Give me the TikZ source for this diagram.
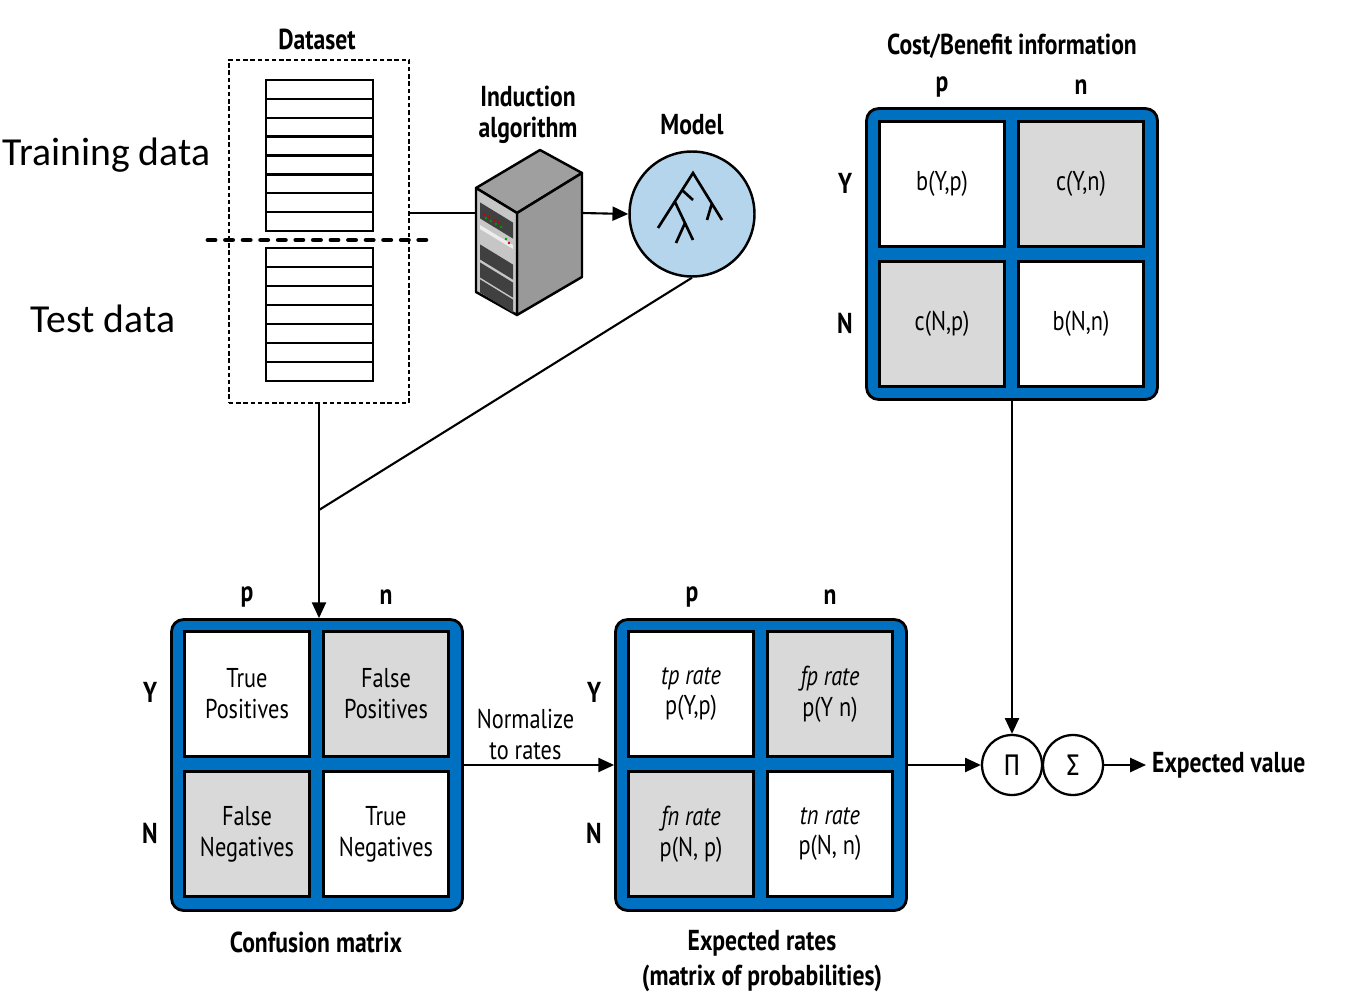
\documentclass[tikz,border=0pt]{standalone}
\usepackage{fontspec}
\setmainfont{PT Sans}[FakeStretch=0.82]
\newfontfamily\calfont{Carlito}
\newfontfamily\grkfont{Fira Sans}[FakeStretch=0.85]
\usetikzlibrary{arrows.meta,positioning,calc}
\definecolor{matblue}{HTML}{0070C0}
\definecolor{cellgrey}{HTML}{D9D9D9}
\definecolor{modelblue}{HTML}{B4D5EB}

\begin{document}
\begin{tikzpicture}[x=0.02cm,y=-0.02cm,
    every node/.style={font=\fontsize{15.5}{17.6}\selectfont},
    lbl/.style={font=\fontsize{16.4}{17.6}\selectfont\bfseries},
    side/.style={font=\calfont\fontsize{22.6}{26}\selectfont},
    cell/.style={draw,line width=1.6pt,minimum size=2.5cm,inner sep=0pt,align=center,fill=white},
    greycell/.style={cell,fill=cellgrey},
    matbox/.style={draw,line width=1.6pt,fill=matblue,rounded corners=0.24cm,minimum size=5.82cm},
    op/.style={draw,circle,line width=1.3pt,minimum size=1.2cm,inner sep=0pt,fill=white,font=\grkfont\fontsize{17}{18}\selectfont},
    arr/.style={-{Triangle[length=9pt,width=8pt]},line width=1.2pt},
    con/.style={line width=1.2pt}]
    \useasboundingbox (0,0) rectangle (1362,1000);
    % dataset
    \node[side,anchor=west] (trainlbl) at (-4,155) {Training data};
    \node[side] (testlbl) at (103,319) {Test data};
    \node[draw,line width=1.3pt,dash pattern=on 2.5pt off 1.6pt,minimum width=3.6cm,minimum height=6.86cm] (ds) at (319,231.5) {};
    \node[lbl] (dslbl) at (317,39) {Dataset};
    \draw[line width=1.3pt] (266,80) rectangle (373,231);
    \foreach \i in {1,...,7} \draw[line width=1.3pt] (266,80+\i*18.875) -- (373,80+\i*18.875);
    \draw[line width=1.3pt] (266,248) rectangle (373,381);
    \foreach \i in {1,...,6} \draw[line width=1.3pt] (266,248+\i*19) -- (373,248+\i*19);
    \draw[line width=2.8pt,line cap=round,dash pattern=on 4pt off 6pt] (208,240) -- (430,240);
    % induction algorithm (server)
    \coordinate (srvin) at (476,213);
    \coordinate (srvout) at (582,213);
    \draw[line width=1.4pt,line join=round,fill=gray!75] (476,188) -- (540,150) -- (582,173) -- (517,213) -- cycle;
    \draw[line width=1.4pt,line join=round,fill=gray!80] (517,213) -- (582,173) -- (582,277) -- (517,315) -- cycle;
    \draw[line width=1.4pt,line join=round,fill=gray!45] (476,188) -- (517,213) -- (517,315) -- (476,292) -- cycle;
    \foreach \t/\h in {12/16,54/15,72/15,89/13}
        \fill[black!75] (480,190.4+\t) -- (513,210.6+\t) -- (513,210.6+\t+\h) -- (480,190.4+\t+\h) -- cycle;
    \fill[white!85!gray] (480,225) -- (513,245) -- (513,249) -- (480,229) -- cycle;
    \foreach \k in {0,1,2,3} {
        \fill[red!80!black] (484+\k*5,214+\k*3) circle (1.3);
        \fill[green!60!black] (486+\k*5,218+\k*3) circle (1.3);
    }
    \fill[green!60!black] (506,239) circle (1.3);
    \fill[red!80!black] (509,243) circle (1.3);
    \node[lbl,align=center] (alglbl) at (528,115) {Induction\\[0pt]algorithm};
    % model
    \node[draw,circle,line width=1.4pt,fill=modelblue,minimum size=2.5cm] (model) at (692,214) {};
    \node[lbl] (modellbl) at (692,125) {Model};
    \draw[line width=1.5pt] (658,228) -- (693,173) -- (722,220)
        (712,203) -- (707,220)
        (682,190) -- (693,200)
        (675,202) -- (693,240)
        (685,223) -- (676,243);
    \draw[con] (ds.east |- srvin) -- (srvin);
    \draw[arr] (srvout) -- (model.west);
    % confusion matrix
    \node[matbox] (cm) at (317,765) {};
    \node[cell] (tp) at (247,694) {True\\Positives};
    \node[greycell] (fp) at (386,694) {False\\Positives};
    \node[greycell] (fn) at (247,834) {False\\Negatives};
    \node[cell] (tn) at (386,834) {True\\Negatives};
    \node[lbl] (cmp) at (247,597) {p};
    \node[lbl] (cmn) at (386,597) {n};
    \node[lbl] (cmy) at (150,692) {Y};
    \node[lbl] (cmN) at (150,833) {N};
    \node[lbl] (cmlbl) at (316,942) {Confusion matrix};
    \coordinate (join) at (ds.south |- 0,510);
    \draw[con] (ds.south) -- (join);
    \draw[con] (model.south) -- (join);
    \draw[arr] (join) -- (join |- cm.north);
    % expected rates
    \node[matbox] (er) at (761,765) {};
    \node[cell] (tpr) at (691,694) {\textit{tp rate}\\p(Y,p)};
    \node[greycell] (fpr) at (830,694) {\textit{fp rate}\\p(Y n)};
    \node[greycell] (fnr) at (691,834) {\textit{fn rate}\\p(N, p)};
    \node[cell] (tnr) at (830,834) {\textit{tn rate}\\p(N, n)};
    \node[lbl] (erp) at (692,597) {p};
    \node[lbl] (ern) at (830,597) {n};
    \node[lbl] (ery) at (594,692) {Y};
    \node[lbl] (erN) at (594,833) {N};
    \node[lbl,align=center,font=\fontsize{16.4}{19.6}\selectfont\bfseries] (erlbl) at (762,961) {Expected rates\\(matrix of probabilities)};
    \draw[arr] (cm.east) -- node[above,pos=0.41,align=center,inner sep=2.5pt] (normlbl) {Normalize\\to rates} (er.west);
    % cost/benefit
    \node[matbox] (cb) at (1012,254) {};
    \node[cell] (byp) at (942,184) {b(Y,p)};
    \node[greycell] (cyn) at (1081,184) {c(Y,n)};
    \node[greycell] (cnp) at (942,324) {c(N,p)};
    \node[cell] (bnn) at (1081,324) {b(N,n)};
    \node[lbl] (cbp) at (942,87) {p};
    \node[lbl] (cbn) at (1081,87) {n};
    \node[lbl] (cby) at (845,183) {Y};
    \node[lbl] (cbN) at (845,323) {N};
    \node[lbl] (cblbl) at (1012,46) {Cost/Benefit information};
    % expected value
    \node[op] (prod) at (1012,765) {Π};
    \node[op] (sum) at (1073,765) {Σ};
    \node[lbl,anchor=west] (evlbl) at (1146,765) {Expected value};
    \draw[arr] (er.east) -- (prod.west);
    \draw[arr] (cb.south) -- (prod.north);
    \draw[arr] (sum.east) -- (evlbl.west);
\end{tikzpicture}
\end{document}
